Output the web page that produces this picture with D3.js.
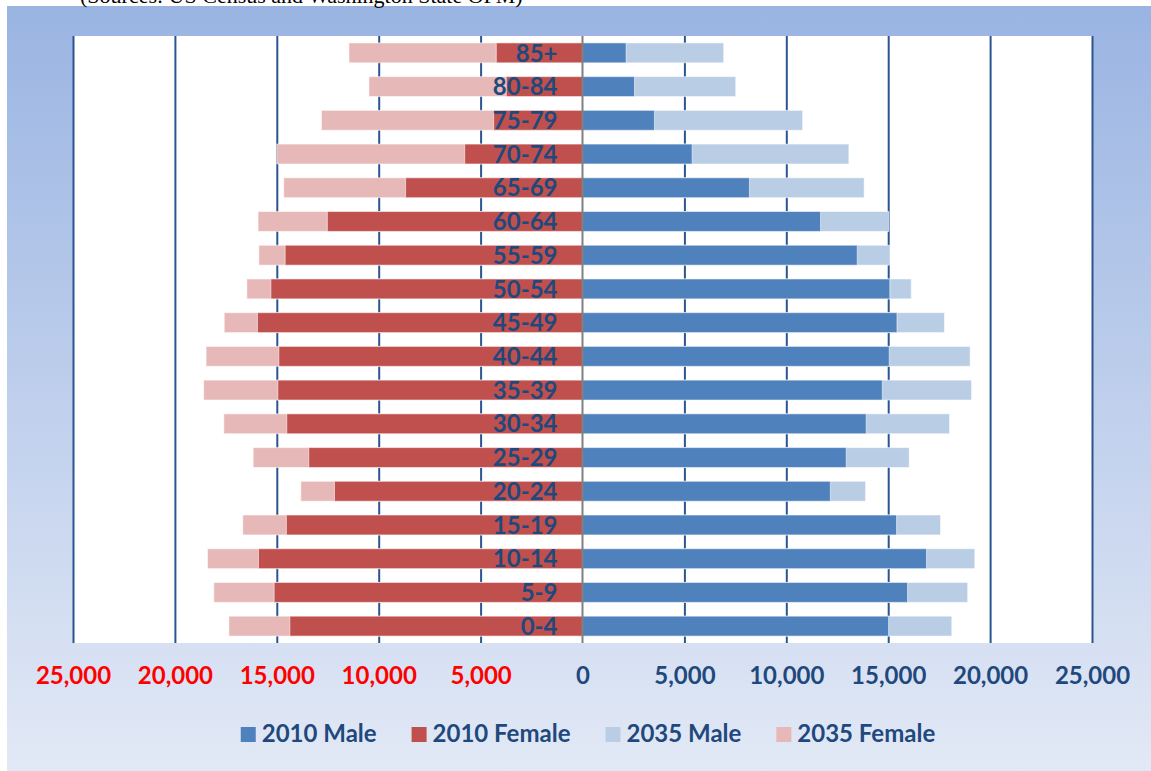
<!DOCTYPE html>
<html>
<head>
<meta charset="utf-8">
<script src="https://cdn.jsdelivr.net/npm/d3@7"></script>
<style>
  body { margin: 0; background: #fff; }
  svg { display: block; }
</style>
</head>
<body>
<div id="chart"></div>
<script>
// age groups, bottom to top
let ageGroups = ["0-4", "5-9", "10-14", "15-19", "20-24", "25-29", "30-34", "35-39", "40-44",
                 "45-49", "50-54", "55-59", "60-64", "65-69", "70-74", "75-79", "80-84", "85+"];

let male2010   = [15020, 15950, 16880, 15410, 12160, 12940, 13920, 14710, 15050,
                  15430, 15080, 13480, 11680, 8190, 5380, 3530, 2550, 2140];
let female2010 = [14360, 15130, 15900, 14530, 12170, 13430, 14510, 14950, 14900,
                  15950, 15290, 14590, 12520, 8680, 5780, 4360, 3740, 4230];
let male2035   = [18120, 18900, 19250, 17570, 13890, 16030, 18010, 19090, 19020,
                  17760, 16130, 15070, 15030, 13820, 13070, 10800, 7520, 6930];
let female2035 = [17350, 18090, 18400, 16670, 13820, 16160, 17600, 18590, 18470,
                  17580, 16470, 15880, 15920, 14660, 15000, 12810, 10480, 11460];

let tickValues = [-25000, -20000, -15000, -10000, -5000, 0, 5000, 10000, 15000, 20000, 25000];
let legendNames = ["2010 Male", "2010 Female", "2035 Male", "2035 Female"];
let colors = ["#4f81bd", "#c0504d", "#b9cde5", "#e6b9b8"];

let W = 1151, H = 771;
let plot = {left: 73, right: 1092, top: 36, bottom: 643};
let font = "Lato, 'Open Sans', sans-serif";
let darkBlue = "#1f497d";

let svg = d3.select("#chart").append("svg")
    .attr("width", W)
    .attr("height", H);

// background gradient
let grad = svg.append("defs").append("linearGradient")
    .attr("id", "bg").attr("x1", 0).attr("y1", 0).attr("x2", 0).attr("y2", 1);
grad.append("stop").attr("offset", "0%").attr("stop-color", "#9ab4e2");
grad.append("stop").attr("offset", "100%").attr("stop-color", "#e2e9f6");

svg.append("rect")
    .attr("x", 7).attr("y", 6)
    .attr("width", W - 7).attr("height", H - 6)
    .attr("fill", "url(#bg)");

// source note, mostly cut off above the chart
svg.append("text")
    .attr("x", 80).attr("y", 3)
    .style("font-family", "'Liberation Serif', 'Times New Roman', serif")
    .style("font-size", "22px")
    .attr("fill", "#000")
    .text("(Sources: US Census and Washington State OFM)");

svg.append("rect")
    .attr("x", plot.left).attr("y", plot.top)
    .attr("width", plot.right - plot.left)
    .attr("height", plot.bottom - plot.top)
    .attr("fill", "#fff");

let x = d3.scaleLinear()
    .domain([-25000, 25000])
    .range([plot.left, plot.right]);

let y = d3.scaleBand()
    .domain(ageGroups.slice().reverse())
    .range([plot.top, plot.bottom])
    .paddingInner(0.41)
    .paddingOuter(0.205);

// vertical gridlines
let grid = svg.append("g")
    .attr("transform", "translate(0," + plot.bottom + ")")
    .call(d3.axisBottom(x).tickValues(tickValues).tickSize(-(plot.bottom - plot.top)).tickFormat(""));
grid.select(".domain").remove();
grid.selectAll("line")
    .attr("stroke", "#2a5592")
    .attr("stroke-width", 2)
    .filter(d => d === 0).remove();

// bars: 2035 behind, 2010 in front
function drawBars(values, color, side) {
    svg.append("g").selectAll("rect")
        .data(values)
        .enter()
        .append("rect")
        .attr("x", d => side < 0 ? x(-d) : x(0))
        .attr("width", d => Math.abs(x(d) - x(0)))
        .attr("y", (d, i) => y(ageGroups[i]))
        .attr("height", y.bandwidth())
        .attr("fill", color)
        .attr("stroke", "rgba(255,255,255,0.55)")
        .attr("stroke-width", 1);
}
drawBars(male2035, colors[2], 1);
drawBars(female2035, colors[3], -1);
drawBars(male2010, colors[0], 1);
drawBars(female2010, colors[1], -1);

// zero line
svg.append("line")
    .attr("x1", x(0)).attr("x2", x(0))
    .attr("y1", plot.top).attr("y2", plot.bottom)
    .attr("stroke", "#808080")
    .attr("stroke-width", 2);

// age labels
svg.append("g").selectAll("text")
    .data(ageGroups)
    .enter()
    .append("text")
    .attr("x", x(0) - 25)
    .attr("y", d => y(d) + y.bandwidth() / 2)
    .attr("dy", "0.36em")
    .attr("text-anchor", "end")
    .style("font-family", font)
    .style("font-weight", "bold")
    .style("font-size", "24px")
    .attr("fill", darkBlue)
    .text(d => d);

// bottom axis labels
let xAxis = svg.append("g")
    .attr("transform", "translate(0,667)")
    .call(d3.axisBottom(x).tickValues(tickValues).tickSize(0).tickPadding(0)
        .tickFormat(d => d3.format(",")(Math.abs(d))));
xAxis.select(".domain").remove();
xAxis.selectAll("text")
    .style("font-family", font)
    .style("font-weight", "bold")
    .style("font-size", "24px")
    .attr("fill", d => d < 0 ? "#ff0000" : darkBlue);

// legend
let legend = svg.append("g");
let lx = 0;
legendNames.forEach(function (name, i) {
    let item = legend.append("g").attr("transform", "translate(" + lx + ",0)");
    item.append("rect")
        .attr("x", 0).attr("y", -15)
        .attr("width", 15).attr("height", 15)
        .attr("fill", colors[i]);
    let t = item.append("text")
        .attr("x", 21).attr("y", 0)
        .style("font-family", font)
        .style("font-weight", "bold")
        .style("font-size", "24px")
        .attr("fill", darkBlue)
        .text(name);
    lx += 21 + t.node().getComputedTextLength() + 35;
});
let legendW = lx - 35;
legend.attr("transform", "translate(" + (588 - legendW / 2) + ",742)");
</script>
</body>
</html>
